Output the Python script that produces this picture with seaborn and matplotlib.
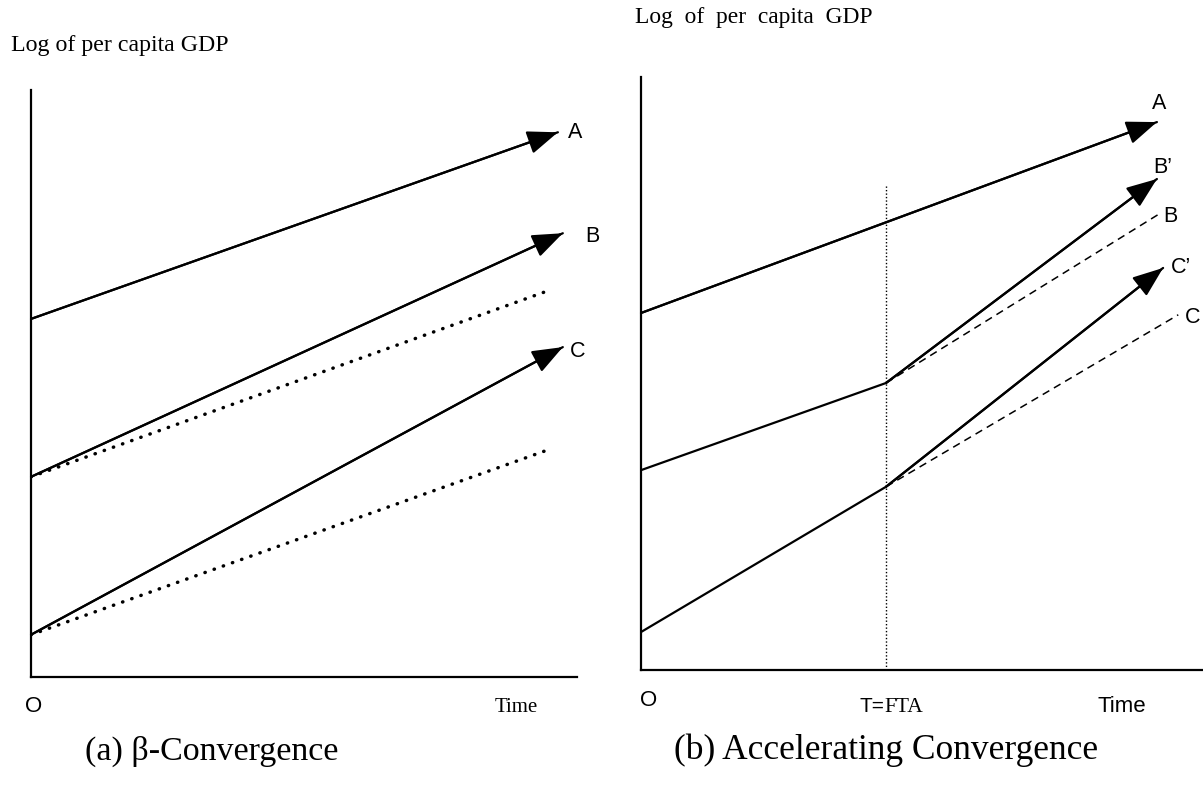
import matplotlib
matplotlib.use("Agg")
import matplotlib.pyplot as plt
import seaborn as sns

# ---- data (time units 0-10, log GDP units 0-10) ----
# panel (a): beta convergence
a_time = [0.0, 9.65]
a_A = [6.10, 9.28]
b_time = [0.0, 9.74]
a_B = [3.41, 7.56]
a_C = [0.72, 5.62]
dot_time = [0.0, 9.41]
a_B_dot = [3.41, 6.56]
a_C_dot = [0.72, 3.85]
labels_a = ["A", "B", "C"]

# panel (b): accelerating convergence
fta = 4.36
b_A_time = [0.0, 9.18]
b_A = [6.02, 9.24]
pre_time = [0.0, fta]
b_B_pre = [3.37, 4.84]
b_C_pre = [0.64, 3.09]
b_B_post_time = [fta, 9.18]
b_B_post = [4.84, 8.28]
b_C_post_time = [fta, 9.29]
b_C_post = [3.09, 6.78]
b_B_dash_time = [fta, 9.27]
b_B_dash = [4.84, 7.72]
b_C_dash_time = [fta, 9.56]
b_C_dash = [3.09, 5.99]
fta_top = 8.18
labels_b = ["A", "B\u2019", "B", "C\u2019", "C"]

W, H = 1203, 789
sns.set_theme(style="white")
plt.rcParams["font.family"] = ["Liberation Sans", "DejaVu Sans"]
plt.rcParams["text.color"] = "black"
SERIF = ["Liberation Serif", "DejaVu Serif"]

fig = plt.figure(figsize=(W / 100, H / 100), dpi=100)


def frac(x, y):
    return x / W, 1 - y / H


ax1 = fig.add_axes([31 / W, 1 - 677 / H, 546 / W, 587 / H])
ax2 = fig.add_axes([641 / W, 1 - 670 / H, 562 / W, 593 / H])

for ax in (ax1, ax2):
    ax.set_xlim(0, 10)
    ax.set_ylim(0, 10)
    ax.set_xticks([])
    ax.set_yticks([])
    for s in ("top", "right"):
        ax.spines[s].set_visible(False)
    for s in ("left", "bottom"):
        ax.spines[s].set_color("black")
        ax.spines[s].set_linewidth(1.6)
    ax.patch.set_alpha(0)

solid = dict(color="black", linewidth=1.6, estimator=None)
head = dict(arrowstyle="-|>,head_length=1.3,head_width=0.5", color="black",
            lw=1.6, mutation_scale=14.5, shrinkA=0, shrinkB=0)


def arrow(ax, xs, ys):
    sns.lineplot(x=xs, y=ys, ax=ax, **solid)
    ax.annotate("", xy=(xs[-1], ys[-1]), xytext=(xs[0], ys[0]),
                arrowprops=head, annotation_clip=False)


# panel (a)
arrow(ax1, a_time, a_A)
arrow(ax1, b_time, a_B)
arrow(ax1, b_time, a_C)
for ys in (a_B_dot, a_C_dot):
    sns.lineplot(x=dot_time, y=ys, ax=ax1, color="black", linewidth=2.5,
                 estimator=None)
    ax1.lines[-1].set_dashes([0.1, 2.7])
    ax1.lines[-1].set_dash_capstyle("round")

for lab, (x, y) in zip(labels_a, [(9.84, 9.28), (10.15, 7.50), (9.87, 5.54)]):
    ax1.text(x, y, lab, fontsize=15.5, ha="left", va="center", clip_on=False)

# panel (b)
arrow(ax2, b_A_time, b_A)
sns.lineplot(x=pre_time, y=b_B_pre, ax=ax2, **solid)
sns.lineplot(x=pre_time, y=b_C_pre, ax=ax2, **solid)
arrow(ax2, b_B_post_time, b_B_post)
arrow(ax2, b_C_post_time, b_C_post)
for xs, ys in ((b_B_dash_time, b_B_dash), (b_C_dash_time, b_C_dash)):
    sns.lineplot(x=xs, y=ys, ax=ax2, color="black", linewidth=1.1,
                 estimator=None)
    ax2.lines[-1].set_dashes([5, 3.5])
ax2.vlines(fta, 0, fta_top, colors="black", linewidth=1.0, linestyles=(0, (1, 1.5)))

for lab, (x, y) in zip(labels_b, [(9.09, 9.56), (9.11, 8.47), (9.29, 7.64),
                                  (9.43, 6.78), (9.68, 5.95)]):
    ax2.text(x, y, lab, fontsize=15.5, ha="left", va="center", clip_on=False)

# text
fig.text(*frac(11, 45), "Log of per capita GDP", family=SERIF, fontsize=17.2,
         ha="left", va="center")
fig.text(*frac(635, 17), "Log  of  per  capita  GDP", family=SERIF, fontsize=16.9,
         ha="left", va="center")
fig.text(*frac(25, 706), "O", fontsize=16, ha="left", va="center")
fig.text(*frac(495, 707), "Time", family=SERIF, fontsize=15, ha="left", va="center")
fig.text(*frac(640, 700), "O", fontsize=16, ha="left", va="center")
fig.text(*frac(884, 707), "T=", fontsize=15, ha="right", va="center")
fig.text(*frac(884, 707), "FTA", family=SERIF, fontsize=15.5, ha="left", va="center")
fig.text(*frac(1097, 707), "Time", fontsize=16, ha="left", va="center")
fig.text(*frac(212, 751), "(a) \u03b2-Convergence", family=SERIF, fontsize=24.5,
         ha="center", va="center")
fig.text(*frac(886, 750), "(b) Accelerating Convergence", family=SERIF, fontsize=25.5,
         ha="center", va="center")

fig.savefig("out.png", dpi=100, facecolor="white")
